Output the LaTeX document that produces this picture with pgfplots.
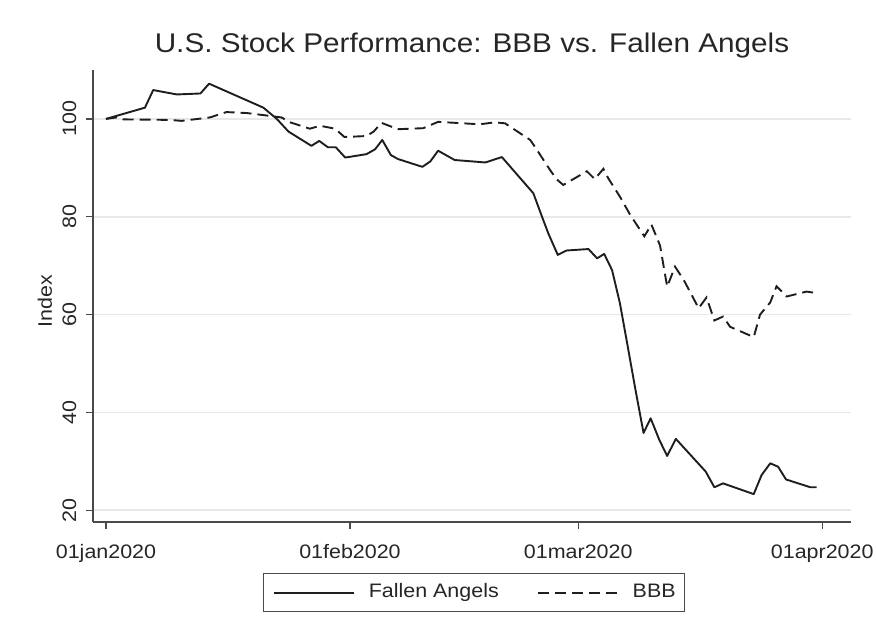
\documentclass[border=0pt]{standalone}
\usepackage{pgfplots}
\pgfplotsset{compat=1.18}
\usepackage{fontspec}
\setmainfont{Liberation Sans}[FakeStretch=1.1]
\definecolor{axisgray}{HTML}{4A4A4A}
\definecolor{gridgray}{HTML}{E8E8E8}
\definecolor{linecol}{HTML}{1E1E1E}

\pgfplotstableread{
d v
0 100
4.95 102.3
6 105.9
9 105.0
12 105.2
13.1 107.2
20 102.3
21.7 100
23.2 97.4
26.1 94.5
27.1 95.5
28.2 94.2
29.2 94.2
30.4 92.1
33.1 92.8
34.2 93.8
35.1 95.7
36.2 92.6
37.1 91.8
40.2 90.2
41.2 91.3
42.2 93.5
44.3 91.6
48.2 91.1
50.3 92.2
54.3 84.8
55.4 80.0
56.2 76.6
57.4 72.2
58.5 73.1
61.3 73.4
62.4 71.5
63.3 72.4
64.3 69.1
65.3 62.3
66.3 53.4
67.3 44.4
68.3 35.8
69.2 38.8
70.3 34.4
71.3 31.1
72.4 34.6
76.2 27.9
77.3 24.7
78.4 25.5
82.3 23.3
83.3 27.2
84.4 29.6
85.4 28.9
86.4 26.3
89.5 24.7
90.3 24.7
}\fallen

\pgfplotstableread{
d v
0 100
1.3 100.3
2.2 99.9
8.1 99.8
9.6 99.6
13.2 100.3
15.3 101.4
17.9 101.2
20.4 100.7
22.3 100.3
23.4 99.3
25.9 98.0
27.2 98.6
29.1 98.0
30.3 96.3
33.1 96.5
34.0 97.4
35.0 99.2
37.1 97.9
40.3 98.1
42.2 99.4
47.5 98.9
49.4 99.3
50.7 99.1
53.9 95.7
54.5 94.3
56.4 89.6
57.3 87.6
58.1 86.5
61.1 89.3
62.1 87.7
63.2 89.8
63.8 87.9
65.3 84.1
66.6 80.4
68.4 76.0
69.3 78.4
70.4 74.1
71.3 65.7
72.3 69.8
73.4 67.1
75.3 61.3
76.3 63.5
77.3 58.8
78.4 59.6
79.3 57.5
82.3 55.4
83.1 60.0
84.4 62.5
85.2 65.8
86.5 63.7
89.0 64.7
90.3 64.4
}\bbb

\begin{document}
\begin{tikzpicture}[x=1pt,y=1pt]
\path[use as bounding box] (0,0) rectangle (877,-634);
\begin{axis}[
  at={(93pt,-522pt)}, anchor=south west,
  scale only axis, width=758pt, height=452pt,
  xmin=-1.65, xmax=94.66, ymin=17.6, ymax=110,
  axis lines*=left,
  axis line style={draw=axisgray, line width=1.3pt},
  xtick={0,31,60,91},
  xticklabels={01jan2020,01feb2020,01mar2020,01apr2020},
  ytick={20,40,60,80,100},
  tick align=outside, major tick length=7pt,
  tick style={draw=axisgray, line width=1.2pt},
  ymajorgrids, grid style={draw=gridgray, line width=1.6pt},
  /pgf/number format/assume math mode=true,
  tick label style={font=\fontsize{19.5}{23}\selectfont, inner sep=0pt, text=black!85},
  xticklabel style={anchor=base, yshift=-29pt},
  yticklabel style={rotate=90, anchor=base, yshift=10pt},
  title={U.S. Stock Performance: BBB vs. Fallen Angels},
  title style={font=\fontsize{27}{32}\selectfont, at={(axis description cs:0.5,1.0259)}, anchor=base, inner sep=0pt, text=black!85},
  ylabel={Index},
  ylabel style={font=\fontsize{19.5}{23}\selectfont, at={(axis description cs:-0.0541,0.489)}, anchor=base, inner sep=0pt, text=black!85},
  legend columns=2,
  legend style={at={(axis description cs:0.503,-0.157)}, anchor=center,
    draw=axisgray, line width=1pt, inner xsep=9pt, inner ysep=10pt,
    font=\fontsize{19.5}{23}\selectfont, text=black!85,
    nodes={inner sep=0pt, text height=14pt, text depth=4pt},
    /tikz/every odd column/.append style={column sep=14pt},
    /tikz/every even column/.append style={column sep=38pt}},
  legend image code/.code={\draw[#1] (0pt,0pt) -- (80pt,0pt);},
]
\addplot[linecol, line width=1.9pt, line join=round] table[x=d, y=v] {\fallen};
\addlegendentry{Fallen Angels}
\addplot[linecol, line width=1.9pt, dash pattern=on 11pt off 6pt] table[x=d, y=v] {\bbb};
\addlegendentry{BBB}
\end{axis}
\end{tikzpicture}
\end{document}
